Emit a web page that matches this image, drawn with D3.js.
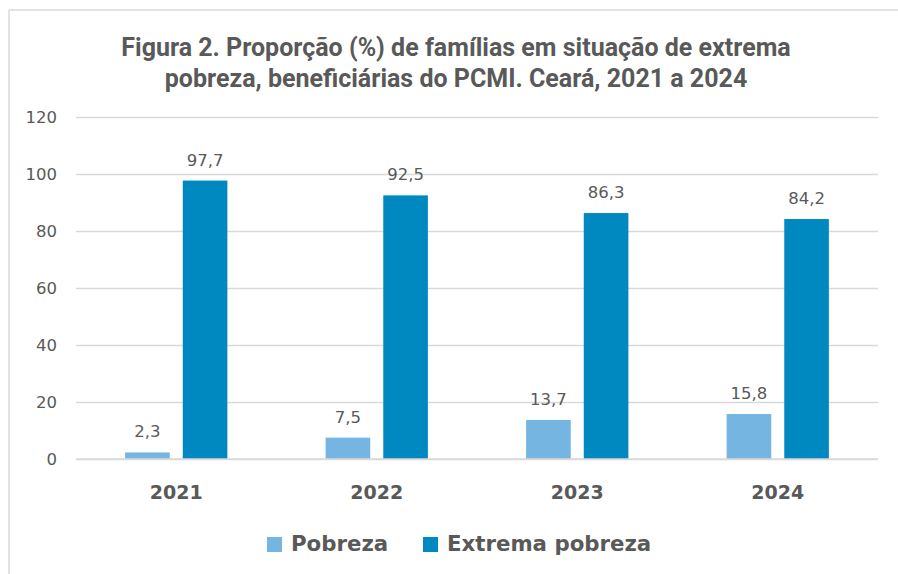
<!DOCTYPE html>
<html>
<head>
<meta charset="utf-8">
<script src="https://cdn.jsdelivr.net/npm/d3@7"></script>
<style>
  body { margin: 0; background: #fff; }
  text { font-family: "DejaVu Sans", sans-serif; fill: #595959; }
  .title { font-family: Roboto, sans-serif; }
</style>
</head>
<body>
<svg width="898" height="574"></svg>
<script>
const years = ['2021', '2022', '2023', '2024'];
const series = ['Pobreza', 'Extrema pobreza'];
const pobreza = [2.3, 7.5, 13.7, 15.8];
const extrema = [97.7, 92.5, 86.3, 84.2];
const yTicks = [0, 20, 40, 60, 80, 100, 120];
const colors = ['#74b6e1', '#0089c1'];

const svg = d3.select('svg');
const width = +svg.attr('width');

// frame
svg.append('line').attr('x1', 9).attr('x2', width).attr('y1', 10).attr('y2', 10)
  .attr('stroke', '#d9d9d9').attr('stroke-width', 1.5);
svg.append('line').attr('x1', 9).attr('x2', 9).attr('y1', 10).attr('y2', 574)
  .attr('stroke', '#d9d9d9').attr('stroke-width', 1.5);

// title
const title = svg.append('text').attr('class', 'title').attr('text-anchor', 'middle')
  .style('font-size', '25px').style('font-weight', 'bold');
title.append('tspan').attr('x', 456).attr('y', 56)
  .text('Figura 2. Proporção (%) de famílias em situação de extrema');
title.append('tspan').attr('x', 456).attr('y', 87)
  .text('pobreza, beneficiárias do PCMI. Ceará, 2021 a 2024');

const plotLeft = 76, plotRight = 878, plotTop = 117, plotBottom = 459;

const y = d3.scaleLinear().domain([0, 120]).range([plotBottom, plotTop]);

const x0 = d3.scaleBand().domain(years).range([plotLeft, plotRight])
  .paddingInner(0.49).paddingOuter(0.245);
const x1 = d3.scaleBand().domain(series).range([0, x0.bandwidth()])
  .paddingInner(0.226);

// grid + y labels
const yAxis = svg.append('g')
  .attr('transform', `translate(${plotLeft},0)`)
  .call(d3.axisLeft(y).tickValues(yTicks).tickSize(-(plotRight - plotLeft)).tickPadding(19));
yAxis.select('.domain').remove();
yAxis.selectAll('.tick line').attr('stroke', '#d9d9d9').attr('stroke-width', 1.3);
yAxis.selectAll('.tick text').style('font-size', '16.5px').style('font-family', '"DejaVu Sans", sans-serif')
  .attr('fill', '#595959');

const rows = years.map((yr, i) => ({ year: yr, values: [pobreza[i], extrema[i]] }));

const groups = svg.append('g').selectAll('g').data(rows).enter().append('g')
  .attr('transform', d => `translate(${x0(d.year)},0)`);

groups.selectAll('rect').data(d => d.values.map((v, j) => ({ s: series[j], v, j })))
  .enter().append('rect')
  .attr('x', d => x1(d.s))
  .attr('width', x1.bandwidth())
  .attr('y', d => y(d.v))
  .attr('height', d => y(0) - y(d.v))
  .attr('fill', d => colors[d.j]);

groups.selectAll('text.val').data(d => d.values.map((v, j) => ({ s: series[j], v, j })))
  .enter().append('text').attr('class', 'val')
  .attr('x', d => x1(d.s) + x1.bandwidth() / 2)
  .attr('y', d => y(d.v) - 15)
  .attr('text-anchor', 'middle')
  .style('font-size', '16.5px')
  .text(d => d3.format('.1f')(d.v).replace('.', ','));

// zero baseline
svg.append('line').attr('x1', plotLeft).attr('x2', plotRight).attr('y1', y(0)).attr('y2', y(0))
  .attr('stroke', '#d9d9d9').attr('stroke-width', 1.3);

// year labels
svg.append('g').selectAll('text').data(years).enter().append('text')
  .attr('x', d => x0(d) + x0.bandwidth() / 2)
  .attr('y', 499)
  .attr('text-anchor', 'middle')
  .style('font-size', '19px').style('font-weight', 'bold')
  .text(d => d);

// legend
const legend = svg.append('g');
const legX = [267, 423];
series.forEach((s, i) => {
  legend.append('rect').attr('x', legX[i]).attr('y', 537).attr('width', 15).attr('height', 15)
    .attr('fill', colors[i]);
  legend.append('text').attr('x', legX[i] + 24).attr('y', 551)
    .style('font-size', '21.3px').style('font-weight', 'bold').text(s);
});
</script>
</body>
</html>
